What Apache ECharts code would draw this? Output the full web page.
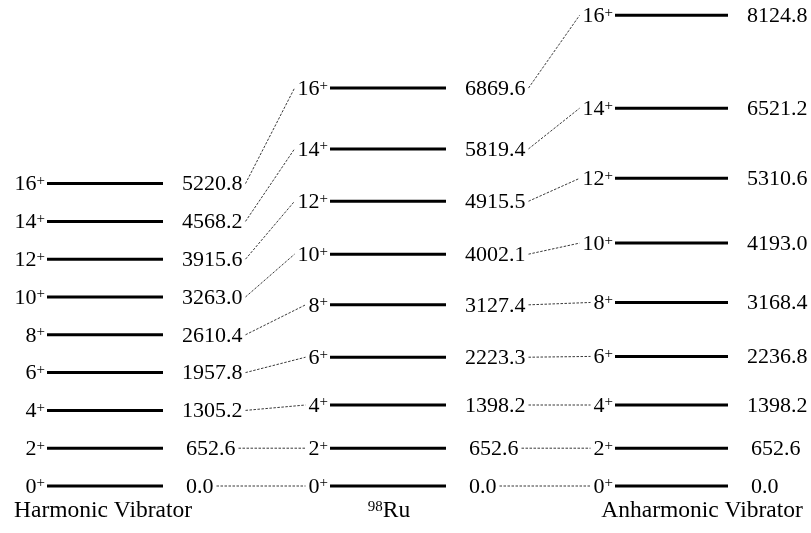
<!DOCTYPE html>
<html><head><meta charset="utf-8">
<script src="https://cdn.jsdelivr.net/npm/echarts@6/dist/echarts.min.js"></script>
<style>html,body{margin:0;padding:0;background:#fff}#c{width:811px;height:533px}</style>
</head><body><div id="c"></div>
<script>
// ---- data ----
const spins = [0, 2, 4, 6, 8, 10, 12, 14, 16];
const harmonicVibrator = [0.0, 652.6, 1305.2, 1957.8, 2610.4, 3263.0, 3915.6, 4568.2, 5220.8];
const ru98 = [0.0, 652.6, 1398.2, 2223.3, 3127.4, 4002.1, 4915.5, 5819.4, 6869.6];
const anharmonicVibrator = [0.0, 652.6, 1398.2, 2236.8, 3168.4, 4193.0, 5310.6, 6521.2, 8124.8];
const titleHarmonic = 'Harmonic Vibrator';
const titleNucleusMass = '98';
const titleNucleusElement = 'Ru';
const titleAnharmonic = 'Anharmonic Vibrator';

// ---- layout / style ----
const columns = [harmonicVibrator, ru98, anharmonicVibrator];
const colX = [[47, 163], [330, 446], [615, 728]];
const FONT = 'Liberation Serif';
const FS = 22, SUP = 15, TFS = 23.5;
const ctx = document.createElement('canvas').getContext('2d');
function tw(t, size) { ctx.font = size + 'px "' + FONT + '"'; return ctx.measureText(t).width; }
function energyText(e) { return e.toFixed(1); }
function energyX(c, e) { return colX[c][1] + 19 + (e < 1000 ? 4 : 0); }
function spinLeft(c, s) { return colX[c][0] - 2 - tw(String(s), FS) - tw('+', SUP); }

const levelData = [];
columns.forEach((arr, c) => arr.forEach((e, i) => levelData.push([c, e, spins[i]])));
const linkData = [];
for (let c = 0; c < 2; c++) for (let i = 0; i < spins.length; i++)
  linkData.push([c, columns[c][i], columns[c + 1][i], spins[i]]);

const spinRich = {
  n: { fontSize: FS, fontFamily: FONT, fill: '#000', lineHeight: 22 },
  p: { fontSize: SUP, fontFamily: FONT, fill: '#000', verticalAlign: 'top', lineHeight: 14 }
};

const chart = echarts.init(document.getElementById('c'), null, { renderer: 'canvas' });
chart.setOption({
  animation: false,
  backgroundColor: '#fff',
  grid: { left: 0, right: 0, top: 11, bottom: 47 },
  xAxis: { type: 'value', min: 0, max: 811, show: false },
  yAxis: { type: 'value', min: 0, max: 8200, show: false },
  series: [
    {
      type: 'custom', coordinateSystem: 'cartesian2d', data: linkData, silent: true,
      renderItem: function (p, api) {
        const c = api.value(0), e1 = api.value(1), e2 = api.value(2), s = api.value(3);
        const x1 = energyX(c, e1) + tw(energyText(e1), FS) + 3;
        const x2 = spinLeft(c + 1, s) - 3;
        const A = api.coord([x1, e1]), B = api.coord([x2, e2]);
        return { type: 'line', shape: { x1: A[0], y1: A[1], x2: B[0], y2: B[1] },
          style: { stroke: '#222', lineWidth: 0.9, lineDash: [2.5, 1.5] } };
      }
    },
    {
      type: 'custom', coordinateSystem: 'cartesian2d', data: levelData, silent: true,
      renderItem: function (p, api) {
        const c = api.value(0), e = api.value(1), s = api.value(2);
        const a = api.coord([colX[c][0], e]), b = api.coord([colX[c][1], e]);
        const ex = api.coord([energyX(c, e), e])[0];
        return { type: 'group', children: [
          { type: 'line', shape: { x1: a[0], y1: a[1], x2: b[0], y2: b[1] },
            style: { stroke: '#000', lineWidth: 3 } },
          { type: 'text', x: a[0] - 2, y: a[1] + 1,
            style: { text: '{n|' + s + '}{p|+}', rich: spinRich, align: 'right', verticalAlign: 'middle' } },
          { type: 'text', x: ex, y: a[1] + 1,
            style: { text: energyText(e), fontSize: FS, fontFamily: FONT, fill: '#000', align: 'left', verticalAlign: 'middle' } }
        ] };
      }
    }
  ],
  graphic: [
    { type: 'text', x: 103, y: 511, silent: true,
      style: { text: titleHarmonic, fontSize: TFS, fontFamily: FONT, fill: '#000', align: 'center', verticalAlign: 'middle' } },
    { type: 'text', x: 389, y: 511, silent: true,
      style: { text: '{p|' + titleNucleusMass + '}{n|' + titleNucleusElement + '}',
        rich: { n: { fontSize: TFS, fontFamily: FONT, fill: '#000', lineHeight: 22 },
                p: { fontSize: SUP, fontFamily: FONT, fill: '#000', verticalAlign: 'top', lineHeight: 14 } },
        align: 'center', verticalAlign: 'middle' } },
    { type: 'text', x: 702, y: 511, silent: true,
      style: { text: titleAnharmonic, fontSize: TFS, fontFamily: FONT, fill: '#000', align: 'center', verticalAlign: 'middle' } }
  ]
});
</script>
</body></html>
